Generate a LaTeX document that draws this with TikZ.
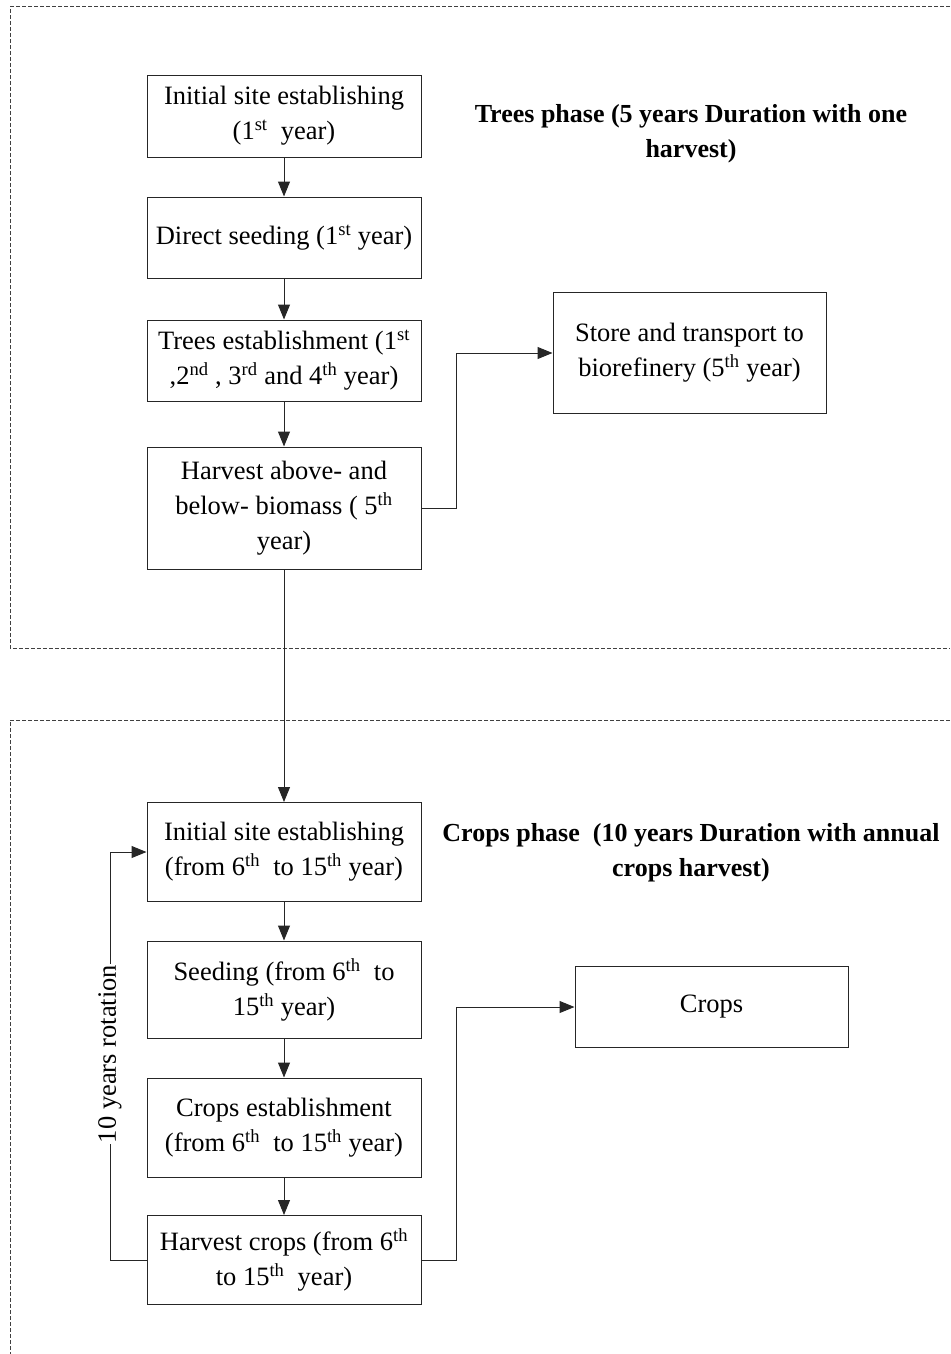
\documentclass[tikz,border=0pt]{standalone}
\usepackage{fontspec}
\setmainfont{Liberation Serif}
\usetikzlibrary{arrows.meta}
\newcommand{\sups}[1]{\textsuperscript{#1}}
\begin{document}
\begin{tikzpicture}[x=1pt,y=-1pt,
  stepbox/.style={draw=black!85,line width=1pt,align=center,inner sep=0pt,
    font=\fontsize{26.5}{35}\selectfont,minimum width=274pt},
  phase/.style={align=center,font=\fontsize{26}{35}\selectfont\bfseries},
  flow/.style={draw=black!85,line width=1pt,-{Triangle[length=15pt,width=12pt]}},
  frame/.style={draw=black!75,line width=1pt,dash pattern=on 4pt off 2pt}]
\useasboundingbox (0,0) rectangle (950,1354);

% phase frames
\draw[frame] (950,7) -- (10,7) -- (10,648) -- (950,648);
\draw[frame] (950,720) -- (10,720) -- (10,1354);

% trees phase
\node[stepbox,minimum height=82pt] (t1) at (284,116) {Initial site establishing\\(1\sups{st}\ \ year)};
\node[stepbox,minimum height=81pt] (t2) at (284,237.5) {Direct seeding (1\sups{st} year)};
\node[stepbox,minimum height=81pt] (t3) at (284,360.5) {Trees establishment (1\sups{st}\\,2\sups{nd} , 3\sups{rd} and 4\sups{th} year)};
\node[stepbox,minimum height=122pt] (t4) at (284,508) {Harvest above- and\\below- biomass ( 5\sups{th}\\year)};
\node[stepbox,minimum width=273pt,minimum height=121pt] (t5) at (689.5,353) {Store and transport to\\biorefinery (5\sups{th} year)};
\node[phase] (tp) at (691,134) {Trees phase (5 years Duration with one\\harvest)};

% crops phase
\node[stepbox,minimum height=99pt] (c1) at (284,852) {Initial site establishing\\(from 6\sups{th}\ \ to 15\sups{th} year)};
\node[stepbox,minimum height=97pt] (c2) at (284,989.5) {Seeding (from 6\sups{th}\ \ to\\15\sups{th} year)};
\node[stepbox,minimum height=99pt] (c3) at (284,1127.5) {Crops establishment\\(from 6\sups{th}\ \ to 15\sups{th} year)};
\node[stepbox,minimum height=89pt] (c4) at (284,1260) {Harvest crops (from 6\sups{th}\\to 15\sups{th}\ \ year)};
\node[stepbox,minimum width=273pt,minimum height=81pt] (c5) at (711.5,1007) {Crops};
\node[phase] (cp) at (691,853) {Crops phase\ \ (10 years Duration with annual\\crops harvest)};

% connectors
\draw[flow] (t1) -- (t2);
\draw[flow] (t2) -- (t3);
\draw[flow] (t3) -- (t4);
\draw[flow] (t4.east) -- (456,508) |- (t5.west);
\draw[flow] (t4.south) -- (c1.north);
\draw[flow] (c1) -- (c2);
\draw[flow] (c2) -- (c3);
\draw[flow] (c3) -- (c4);
\draw[flow] (c4.east) -- (456,1260) |- (c5.west);

% rotation loop
\coordinate (lb) at (110,1260);
\coordinate (lt) at (110,852);
\draw[flow] (c4.west) -- (lb) -- (lt) -- (c1.west);
\node[fill=white,rotate=90,inner sep=1pt,font=\fontsize{26.5}{30}\selectfont] (rot) at (110,1054) {10 years rotation};
\end{tikzpicture}
\end{document}
